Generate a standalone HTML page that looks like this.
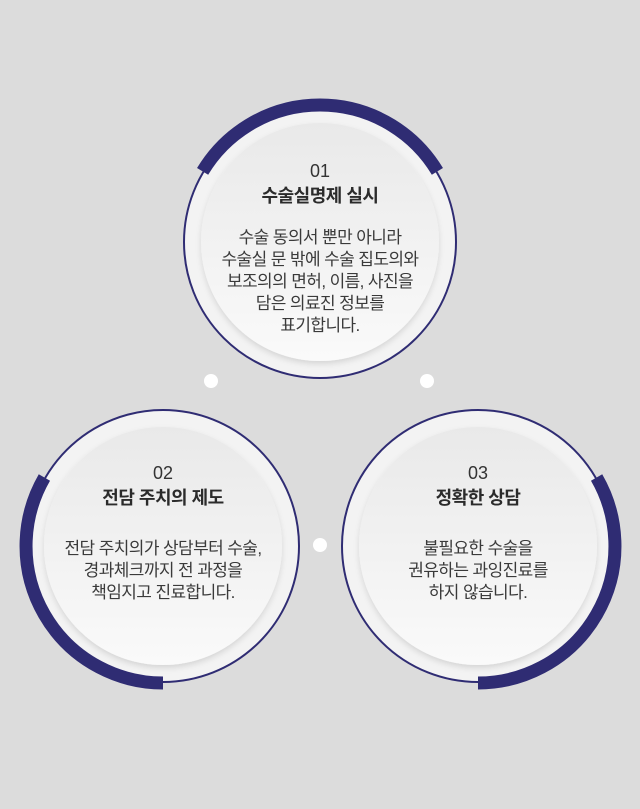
<!DOCTYPE html>
<html><head><meta charset="utf-8"><style>
html,body{margin:0;padding:0;background:#dcdcdc;}
svg{display:block;}
text{font-family:"Liberation Sans","Noto Sans CJK KR",sans-serif;fill:#333;text-anchor:middle;}
.n{font-size:18px;}
.t{font-size:18px;font-weight:bold;fill:#2b2b2b;letter-spacing:-0.5px;}
.b{font-size:17px;fill:#3a3a3a;letter-spacing:-0.6px;}
</style></head><body>
<svg width="640" height="809" viewBox="0 0 640 809" xmlns="http://www.w3.org/2000/svg">
<defs>
<linearGradient id="g" x1="0" y1="0" x2="0" y2="1">
<stop offset="0" stop-color="#e9e9e9"/><stop offset="1" stop-color="#fafafa"/>
</linearGradient>
<filter id="s" x="-20%" y="-20%" width="140%" height="140%">
<feDropShadow dx="0" dy="3" stdDeviation="3" flood-color="#000" flood-opacity="0.12"/>
</filter>
</defs>
<rect width="640" height="809" fill="#dcdcdc"/>
<circle cx="211" cy="381" r="7" fill="#fff"/>
<circle cx="427" cy="381" r="7" fill="#fff"/>
<circle cx="320" cy="545" r="7" fill="#fff"/>

<circle cx="320" cy="242" r="136" fill="#f3f3f3" stroke="#2f2c73" stroke-width="2"/>
<circle cx="320" cy="242" r="119" fill="url(#g)" filter="url(#s)"/>
<path d="M202.6 171.4 A137 137 0 0 1 437.4 171.4" fill="none" stroke="#2f2c73" stroke-width="13"/>
<text class="n" x="320" y="177">01</text>
<text class="t" x="320" y="202">수술실명제 실시</text>
<text class="b" x="320" y="243">수술 동의서 뿐만 아니라</text>
<text class="b" x="320" y="265">수술실 문 밖에 수술 집도의와</text>
<text class="b" x="320" y="287">보조의의 면허, 이름, 사진을</text>
<text class="b" x="320" y="309">담은 의료진 정보를</text>
<text class="b" x="320" y="331">표기합니다.</text>

<circle cx="163" cy="546" r="136" fill="#f3f3f3" stroke="#2f2c73" stroke-width="2"/>
<circle cx="163" cy="546" r="119" fill="url(#g)" filter="url(#s)"/>
<path d="M163 683 A137 137 0 0 1 44.4 477.5" fill="none" stroke="#2f2c73" stroke-width="13"/>
<text class="n" x="163" y="479">02</text>
<text class="t" x="163" y="504">전담 주치의 제도</text>
<text class="b" x="163" y="554">전담 주치의가 상담부터 수술,</text>
<text class="b" x="163" y="576">경과체크까지 전 과정을</text>
<text class="b" x="163" y="598">책임지고 진료합니다.</text>

<circle cx="478" cy="546" r="136" fill="#f3f3f3" stroke="#2f2c73" stroke-width="2"/>
<circle cx="478" cy="546" r="119" fill="url(#g)" filter="url(#s)"/>
<path d="M596.6 477.5 A137 137 0 0 1 478 683" fill="none" stroke="#2f2c73" stroke-width="13"/>
<text class="n" x="478" y="479">03</text>
<text class="t" x="478" y="504">정확한 상담</text>
<text class="b" x="478" y="554">불필요한 수술을</text>
<text class="b" x="478" y="576">권유하는 과잉진료를</text>
<text class="b" x="478" y="598">하지 않습니다.</text>
</svg>
</body></html>
